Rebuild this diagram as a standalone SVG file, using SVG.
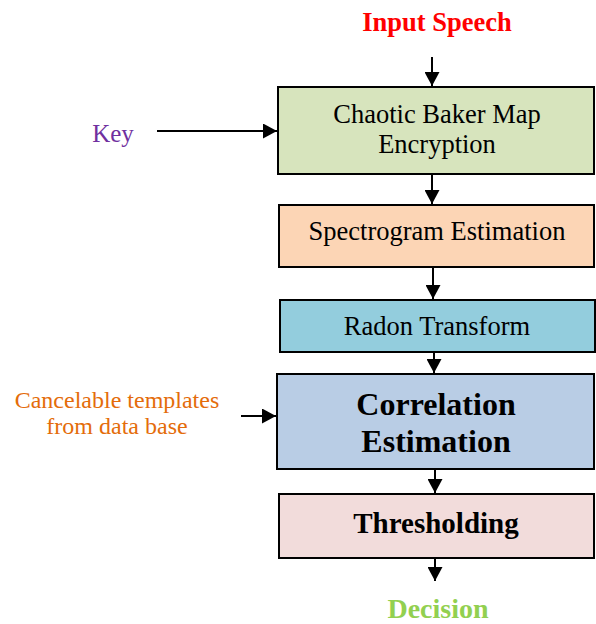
<svg xmlns="http://www.w3.org/2000/svg" width="596" height="624" viewBox="0 0 596 624">
  <style>
    .box { stroke: #000; stroke-width: 2; }
    .t { font-family: "Liberation Serif", "Times New Roman", serif; text-anchor: middle; fill: #000; }
    .reg { font-size: 26.5px; }
    .bold { font-weight: bold; }
    .wire { stroke: #000; stroke-width: 2; fill: none; marker-end: url(#head); }
  </style>
  <defs>
    <marker id="head" markerUnits="userSpaceOnUse" viewBox="0 0 14 15" refX="14" refY="7.5" markerWidth="14" markerHeight="15" orient="auto">
      <path d="M0,0 L14,7.5 L0,15 Z" fill="#000"/>
    </marker>
  </defs>

  <rect width="596" height="624" fill="#fff"/>

  <!-- side inputs and terminal labels -->
  <g id="input-speech">
    <text class="t bold" x="437" y="31" font-size="26.5" style="fill:#ff0000">Input Speech</text>
  </g>
  <g id="key">
    <text class="t" x="113" y="142" font-size="25" style="fill:#7030a0">Key</text>
  </g>
  <g id="templates">
    <text class="t" x="117" y="408" font-size="24" style="fill:#e46c0a">Cancelable templates</text>
    <text class="t" x="117" y="434" font-size="24" style="fill:#e46c0a">from data base</text>
  </g>
  <g id="decision">
    <text class="t bold" x="438" y="618" font-size="28" style="fill:#92d050">Decision</text>
  </g>

  <!-- processing blocks -->
  <g id="encryption">
    <rect class="box" x="278" y="87" width="316" height="87" fill="#d7e4bd"/>
    <text class="t reg" x="437" y="123">Chaotic Baker Map</text>
    <text class="t reg" x="437" y="153">Encryption</text>
  </g>
  <g id="spectrogram">
    <rect class="box" x="279" y="205" width="315" height="62" fill="#fcd5b5"/>
    <text class="t reg" x="437" y="240">Spectrogram Estimation</text>
  </g>
  <g id="radon">
    <rect class="box" x="280" y="300" width="315" height="52" fill="#93cddd"/>
    <text class="t reg" x="437" y="335">Radon Transform</text>
  </g>
  <g id="correlation">
    <rect class="box" x="277" y="374" width="317" height="95" fill="#b9cde5"/>
    <text class="t bold" x="436" y="415" font-size="32">Correlation</text>
    <text class="t bold" x="436" y="452" font-size="32">Estimation</text>
  </g>
  <g id="thresholding">
    <rect class="box" x="279" y="494" width="315" height="64" fill="#f2dcdb"/>
    <text class="t bold" x="436" y="533" font-size="29">Thresholding</text>
  </g>

  <!-- connectors -->
  <g id="connectors">
    <line class="wire" x1="432" y1="57" x2="432" y2="86"/>
    <line class="wire" x1="432" y1="175" x2="432" y2="204"/>
    <line class="wire" x1="433" y1="268" x2="433" y2="299"/>
    <line class="wire" x1="434" y1="353" x2="434" y2="373"/>
    <line class="wire" x1="435" y1="470" x2="435" y2="493"/>
    <line class="wire" x1="435" y1="559" x2="435" y2="581"/>
    <line class="wire" x1="157" y1="131" x2="277" y2="131"/>
    <line class="wire" x1="241" y1="416" x2="276" y2="416"/>
  </g>
</svg>
